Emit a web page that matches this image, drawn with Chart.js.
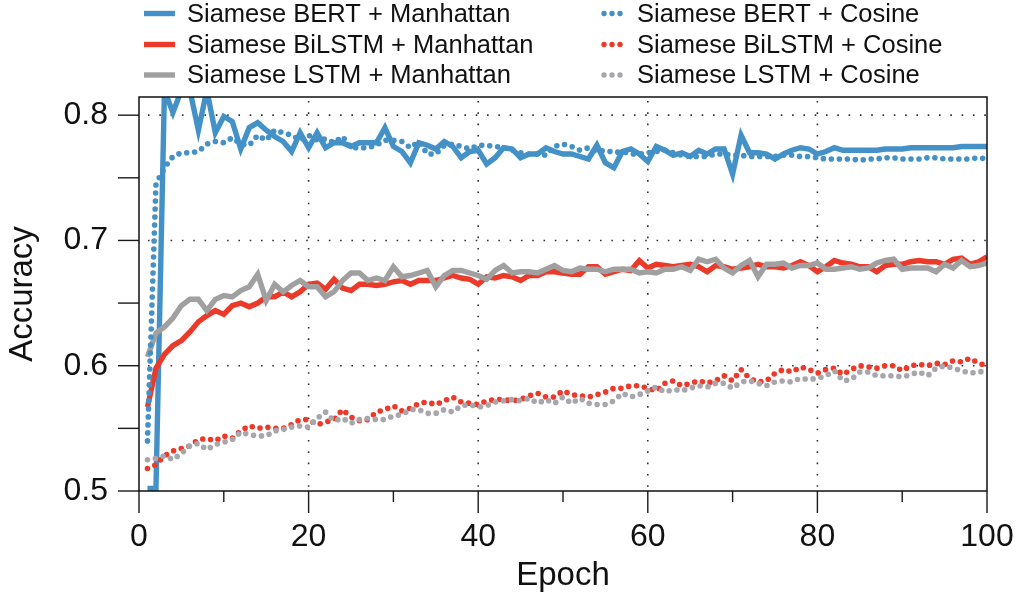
<!DOCTYPE html>
<html><head><meta charset="utf-8">
<script src="https://cdn.jsdelivr.net/npm/chart.js@4.4.0/dist/chart.umd.min.js"></script>
<style>html,body{margin:0;padding:0;background:#fff;}#wrap{width:1019px;height:597px;}</style>
</head><body><div id="wrap"><canvas id="c" width="1019" height="597"></canvas></div>
<script>
// ---------- DATA ----------
const epochs = Array.from({length: 100}, (_, i) => i + 1);

const bertManhattan = [
 0.502,0.502,0.820,0.802,0.820,0.820,0.788,0.820,0.786,0.799,
 0.795,0.773,0.790,0.794,0.788,0.783,0.779,0.771,0.786,0.774,
 0.786,0.774,0.778,0.778,0.775,0.778,0.778,0.778,0.790,0.775,
 0.771,0.762,0.778,0.776,0.773,0.779,0.775,0.766,0.771,0.772,
 0.761,0.766,0.774,0.773,0.766,0.769,0.769,0.774,0.771,0.769,
 0.769,0.767,0.765,0.776,0.762,0.758,0.771,0.773,0.769,0.763,
 0.775,0.772,0.768,0.770,0.767,0.772,0.769,0.773,0.773,0.753,
 0.784,0.770,0.770,0.769,0.765,0.769,0.772,0.774,0.773,0.769,
 0.771,0.774,0.772,0.772,0.772,0.772,0.772,0.773,0.773,0.773,
 0.774,0.774,0.774,0.774,0.774,0.774,0.775,0.775,0.775,0.775];

const bilstmManhattan = [
 0.567,0.598,0.609,0.616,0.620,0.627,0.635,0.640,0.644,0.641,
 0.648,0.650,0.647,0.650,0.655,0.655,0.659,0.655,0.659,0.665,
 0.666,0.661,0.669,0.662,0.660,0.665,0.665,0.664,0.665,0.667,
 0.668,0.665,0.668,0.668,0.668,0.670,0.672,0.670,0.669,0.665,
 0.671,0.670,0.672,0.671,0.668,0.672,0.672,0.675,0.675,0.674,
 0.673,0.673,0.679,0.679,0.673,0.675,0.677,0.676,0.684,0.678,
 0.681,0.680,0.679,0.680,0.681,0.679,0.675,0.680,0.679,0.677,
 0.678,0.679,0.681,0.679,0.679,0.678,0.680,0.683,0.680,0.675,
 0.679,0.684,0.682,0.681,0.679,0.679,0.675,0.680,0.681,0.681,
 0.683,0.684,0.683,0.683,0.681,0.685,0.686,0.681,0.683,0.687];

const lstmManhattan = [
 0.607,0.626,0.631,0.638,0.648,0.653,0.653,0.644,0.653,0.656,
 0.655,0.660,0.663,0.673,0.652,0.665,0.659,0.664,0.668,0.663,
 0.663,0.655,0.659,0.668,0.674,0.674,0.668,0.670,0.668,0.679,
 0.671,0.672,0.674,0.676,0.663,0.672,0.676,0.676,0.674,0.672,
 0.669,0.676,0.680,0.674,0.675,0.675,0.674,0.677,0.680,0.676,
 0.675,0.678,0.677,0.677,0.675,0.677,0.677,0.677,0.674,0.675,
 0.674,0.677,0.677,0.679,0.676,0.685,0.683,0.685,0.678,0.674,
 0.680,0.684,0.671,0.681,0.681,0.682,0.678,0.680,0.680,0.682,
 0.677,0.677,0.678,0.679,0.677,0.678,0.682,0.684,0.685,0.677,
 0.678,0.678,0.678,0.675,0.681,0.678,0.684,0.679,0.680,0.682];

const bertCosine = [
 0.540,0.745,0.758,0.767,0.770,0.770,0.771,0.777,0.779,0.778,
 0.782,0.777,0.776,0.784,0.780,0.788,0.786,0.784,0.780,0.784,
 0.780,0.781,0.778,0.783,0.774,0.774,0.774,0.776,0.780,0.780,
 0.779,0.774,0.779,0.769,0.769,0.776,0.777,0.775,0.773,0.776,
 0.776,0.775,0.774,0.772,0.770,0.769,0.769,0.768,0.775,0.777,
 0.775,0.772,0.774,0.771,0.772,0.770,0.771,0.769,0.769,0.770,
 0.771,0.772,0.770,0.768,0.767,0.767,0.767,0.769,0.769,0.768,
 0.768,0.767,0.767,0.767,0.767,0.768,0.768,0.767,0.767,0.766,
 0.765,0.765,0.765,0.765,0.764,0.765,0.765,0.766,0.766,0.765,
 0.765,0.765,0.766,0.766,0.765,0.765,0.765,0.765,0.766,0.765];

const bilstmCosine = [
 0.518,0.521,0.528,0.532,0.534,0.536,0.541,0.542,0.540,0.544,
 0.542,0.548,0.552,0.550,0.551,0.550,0.550,0.553,0.557,0.557,
 0.553,0.555,0.557,0.565,0.559,0.556,0.557,0.563,0.565,0.568,
 0.564,0.566,0.570,0.571,0.569,0.572,0.575,0.571,0.570,0.569,
 0.572,0.573,0.573,0.572,0.573,0.576,0.578,0.575,0.575,0.580,
 0.577,0.576,0.575,0.577,0.579,0.582,0.582,0.584,0.584,0.582,
 0.580,0.586,0.588,0.584,0.586,0.588,0.586,0.588,0.592,0.588,
 0.597,0.590,0.587,0.588,0.594,0.597,0.595,0.599,0.597,0.594,
 0.597,0.598,0.593,0.597,0.600,0.599,0.598,0.600,0.600,0.596,
 0.600,0.601,0.600,0.602,0.601,0.604,0.603,0.606,0.602,0.600];

const lstmCosine = [
 0.525,0.526,0.528,0.525,0.530,0.536,0.538,0.533,0.537,0.539,
 0.541,0.547,0.545,0.544,0.544,0.548,0.549,0.551,0.552,0.551,
 0.558,0.563,0.556,0.558,0.554,0.557,0.558,0.557,0.557,0.560,
 0.561,0.565,0.565,0.562,0.562,0.565,0.563,0.568,0.569,0.567,
 0.568,0.571,0.572,0.573,0.572,0.574,0.570,0.573,0.570,0.575,
 0.570,0.574,0.570,0.569,0.569,0.572,0.578,0.575,0.577,0.580,
 0.583,0.579,0.581,0.580,0.582,0.584,0.583,0.586,0.586,0.582,
 0.587,0.588,0.586,0.584,0.587,0.588,0.587,0.590,0.589,0.590,
 0.592,0.596,0.588,0.589,0.595,0.595,0.592,0.592,0.592,0.591,
 0.593,0.595,0.592,0.598,0.600,0.598,0.596,0.594,0.595,0.596];

const seriesLabels = [
 'Siamese BERT + Manhattan', 'Siamese BiLSTM + Manhattan', 'Siamese LSTM + Manhattan',
 'Siamese BERT + Cosine', 'Siamese BiLSTM + Cosine', 'Siamese LSTM + Cosine'];

const xTickValues = [0,10,20,30,40,50,60,70,80,90,100];
const xLabelValues = [0,20,40,60,80,100];
const yTickValues = [0.5,0.55,0.6,0.65,0.7,0.75,0.8];
const yLabelValues = [0.5,0.6,0.7,0.8];
const xGridValues = [20,40,60,80];
const yGridValues = [0.6,0.7,0.8];

// ---------- STYLE ----------
const FONT = '"Liberation Sans", Arial, Helvetica, sans-serif';
const BLUE = '#4391c6', RED = '#ec3a2a', GRAY = '#a0a0a0', GRAYDOT = '#a6a6ac';
const INK = '#111111';
Chart.defaults.font.family = FONT;

function mk(label, values, color, dotted, order) {
  return {
    label, order,
    data: epochs.map((e, i) => ({x: e, y: values[i]})),
    borderColor: color, backgroundColor: color,
    borderWidth: dotted ? 5.6 : 5.4,
    borderDash: dotted ? [0, 8] : [],
    borderCapStyle: dotted ? 'round' : 'butt',
    borderJoinStyle: 'miter',
    pointRadius: 0, tension: 0, fill: false, clip: 0,
    _dotted: dotted
  };
}

const datasets = [
  mk(seriesLabels[0], bertManhattan, BLUE, false, 6),
  mk(seriesLabels[1], bilstmManhattan, RED, false, 5),
  mk(seriesLabels[2], lstmManhattan, GRAY, false, 4),
  mk(seriesLabels[3], bertCosine, BLUE, true, 3),
  mk(seriesLabels[4], bilstmCosine, RED, true, 2),
  mk(seriesLabels[5], lstmCosine, GRAYDOT, true, 1)
];

const decor = {
  id: 'decor',
  beforeDatasetsDraw(chart) {
    const {ctx, chartArea: a, scales: {x, y}} = chart;
    ctx.save();
    ctx.strokeStyle = '#333';
    ctx.lineWidth = 1.6;
    ctx.setLineDash([1.6, 9.7]);
    xGridValues.forEach(v => {
      const px = x.getPixelForValue(v);
      ctx.beginPath(); ctx.moveTo(px, a.top + 4); ctx.lineTo(px, a.bottom); ctx.stroke();
    });
    yGridValues.forEach(v => {
      const py = y.getPixelForValue(v);
      ctx.beginPath(); ctx.moveTo(a.left + 9, py); ctx.lineTo(a.right, py); ctx.stroke();
    });
    ctx.restore();
  },
  afterDatasetsDraw(chart) {
    const {ctx, chartArea: a, scales: {x, y}} = chart;
    ctx.save();
    ctx.strokeStyle = '#1a1a1a';
    ctx.lineWidth = 1.4;
    ctx.setLineDash([]);
    xTickValues.forEach(v => {
      const px = x.getPixelForValue(v);
      const len = xLabelValues.includes(v) ? 22 : 11;
      ctx.beginPath(); ctx.moveTo(px, a.bottom); ctx.lineTo(px, a.bottom + len); ctx.stroke();
    });
    yTickValues.forEach(v => {
      const py = y.getPixelForValue(v);
      ctx.beginPath(); ctx.moveTo(a.left, py); ctx.lineTo(a.left - 21, py); ctx.stroke();
    });
    ctx.lineWidth = 1.5;
    ctx.strokeStyle = '#111';
    ctx.strokeRect(a.left, a.top, a.right - a.left, a.bottom - a.top);
    ctx.restore();
  },
  afterDraw(chart) {
    const {ctx} = chart;
    const rowsY = [13.5, 44.5, 75];
    ctx.save();
    ctx.font = '25.5px ' + FONT;
    ctx.fillStyle = INK;
    ctx.textBaseline = 'middle';
    ctx.textAlign = 'left';
    chart.data.datasets.forEach((ds, i) => {
      const col = i < 3 ? 0 : 1;
      const row = i % 3;
      const yy = rowsY[row];
      ctx.strokeStyle = ds.borderColor;
      ctx.lineWidth = 5.4;
      if (ds._dotted) {
        ctx.setLineDash([0, 8]); ctx.lineCap = 'round';
        ctx.beginPath(); ctx.moveTo(604, yy); ctx.lineTo(621, yy); ctx.stroke();
      } else {
        ctx.setLineDash([]); ctx.lineCap = 'butt';
        ctx.beginPath(); ctx.moveTo(144, yy); ctx.lineTo(175, yy); ctx.stroke();
      }
      ctx.fillText(ds.label, col === 0 ? 187 : 637, yy + 1);
    });
    ctx.restore();
  }
};

new Chart(document.getElementById('c'), {
  type: 'line',
  data: {datasets},
  options: {
    responsive: false, animation: false, devicePixelRatio: 1, events: [],
    layout: {padding: {top: 97, right: 32, left: 0, bottom: 0}},
    plugins: {legend: {display: false}, tooltip: {enabled: false}, title: {display: false}},
    scales: {
      x: {
        type: 'linear', min: 0, max: 100,
        afterBuildTicks: s => { s.ticks = xTickValues.map(v => ({value: v})); },
        afterFit: s => { s.height = 106; },
        grid: {display: true, color: 'rgba(0,0,0,0)', tickColor: 'rgba(0,0,0,0)', tickLength: 22, drawTicks: true},
        border: {display: false},
        ticks: {autoSkip: false, maxRotation: 0, minRotation: 0, padding: 5, color: INK,
                font: {size: 32}, callback: v => xLabelValues.includes(v) ? String(v) : ''},
        title: {display: true, text: 'Epoch', color: INK, font: {size: 33}, padding: {top: 0, bottom: 1}}
      },
      y: {
        type: 'linear', min: 0.5, max: 0.8145,
        afterBuildTicks: s => { s.ticks = yTickValues.map(v => ({value: v})); },
        afterFit: s => { s.width = 139; },
        grid: {display: true, color: 'rgba(0,0,0,0)', tickColor: 'rgba(0,0,0,0)', tickLength: 20, drawTicks: true},
        border: {display: false},
        ticks: {autoSkip: false, padding: 11, color: INK, font: {size: 32},
                callback: v => yLabelValues.includes(Math.round(v * 100) / 100) ? v.toFixed(1) : ''},
        title: {display: true, text: 'Accuracy', color: INK, font: {size: 33}, padding: {top: 3, bottom: 0}}
      }
    }
  },
  plugins: [decor]
});
</script>
</body></html>
